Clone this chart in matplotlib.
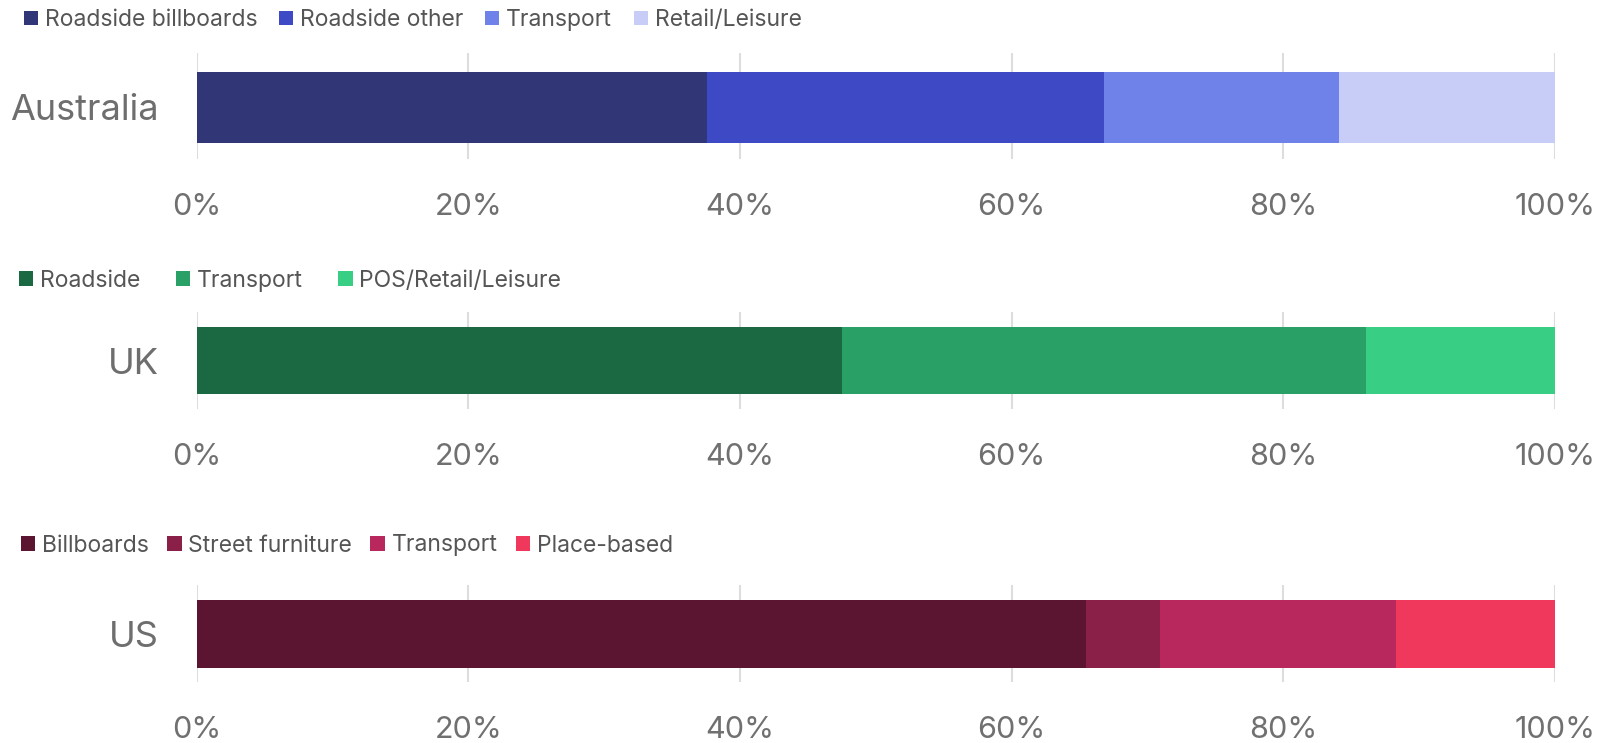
import matplotlib.pyplot as plt
from matplotlib.patches import Patch

plt.rcParams['font.family'] = ['Inter', 'DejaVu Sans']

# data
countries = ["Australia", "UK", "US"]

au_labels = ["Roadside billboards", "Roadside other", "Transport", "Retail/Leisure"]
au_values = [37.6, 29.2, 17.3, 15.9]
au_colors = ["#313676", "#3E4AC5", "#6F82E9", "#C8CDF7"]

uk_labels = ["Roadside", "Transport", "POS/Retail/Leisure"]
uk_values = [47.5, 38.6, 13.9]
uk_colors = ["#1B6943", "#28A066", "#38CF85"]

us_labels = ["Billboards", "Street furniture", "Transport", "Place-based"]
us_values = [65.5, 5.4, 17.4, 11.7]
us_colors = ["#5C1530", "#8A1F47", "#B8285C", "#F0385C"]

ticks = [0, 20, 40, 60, 80, 100]
tick_labels = [f"{t}%" for t in ticks]

W, H = 1604, 743
fig = plt.figure(figsize=(W / 100, H / 100), dpi=100)

# layout in pixels: grid top/bottom, bar top/bottom, legend x/y, column spacing
panels = [
    (countries[0], au_labels, au_values, au_colors, (53, 158.5, 72, 142.5), (23.5, 20), 0.95),
    (countries[1], uk_labels, uk_values, uk_colors, (312, 409, 327, 394), (19, 280.5), 1.55),
    (countries[2], us_labels, us_values, us_colors, (585, 682, 600, 667.5), (21, 545.5), 0.8),
]

x0, x1 = 196.5, 1555

for name, labels, values, colors, (gt, gb, bt, bb), (lx, ly), cs in panels:
    ax = fig.add_axes([x0 / W, (H - gb) / H, (x1 - x0) / W, (gb - gt) / H])
    bh = bb - bt
    ax.set_ylim(-(gb - bb) / bh, 1 + (bt - gt) / bh)
    ax.set_xlim(0, 100)

    left = 0
    for v, c in zip(values, colors):
        ax.barh(0, v, left=left, height=1, align='edge', color=c, linewidth=0, zorder=2)
        left += v

    for sp in ax.spines.values():
        sp.set_visible(False)
    ax.set_xticks(ticks)
    ax.set_xticklabels(tick_labels)
    ax.grid(axis='x', color='#dddddd', linewidth=1.5, zorder=0)
    ax.set_axisbelow(True)
    ax.tick_params(axis='x', length=0, pad=24.5, labelsize=22, labelcolor='#707070')
    ax.set_yticks([0.5])
    ax.set_yticklabels([name])
    ax.tick_params(axis='y', length=0, pad=27, labelsize=26, labelcolor='#6e6e6e')

    handles = [Patch(facecolor=c, edgecolor='none') for c in colors]
    fig.legend(handles, labels, loc='center left', bbox_to_anchor=(lx / W, 1 - ly / H),
               ncol=len(labels), frameon=False, fontsize=16.5, handlelength=0.62,
               handleheight=0.62, handletextpad=0.3, columnspacing=cs,
               borderpad=0, borderaxespad=0, labelcolor='#555555')

fig.savefig("out.png", dpi=100)
